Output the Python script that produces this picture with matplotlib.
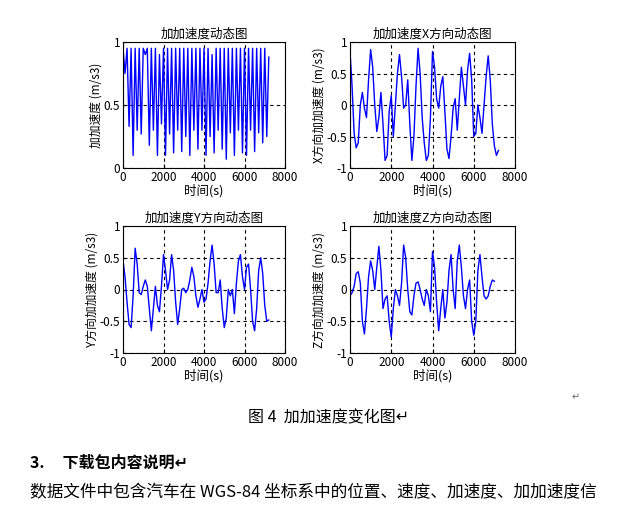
import matplotlib
matplotlib.use("Agg")
import matplotlib.pyplot as plt
import numpy as np

plt.rcParams['font.family'] = ['Noto Sans CJK SC', 'DejaVu Sans']

t = list(range(0, 7300, 100))
jerk = [0.95,0.75,0.95,0.33,0.95,0.1,0.95,0.3,0.95,0.27,0.95,0.9,0.95,0.18,0.95,0.3,0.95,0.1,0.9,0.35,0.95,0.1,0.95,0.27,0.95,0.12,0.95,0.3,0.95,0.13,0.95,0.25,0.95,0.1,0.95,0.3,0.95,0.15,0.95,0.3,0.95,0.1,0.95,0.25,0.9,0.12,0.95,0.3,0.95,0.15,0.95,0.07,0.95,0.28,0.95,0.1,0.95,0.3,0.95,0.12,0.95,0.1,0.95,0.3,0.95,0.13,0.95,0.28,0.95,0.2,0.95,0.25,0.88]
jx = [0.85,0.3,-0.45,-0.68,-0.6,0.0,0.2,-0.05,-0.2,0.4,0.88,0.6,0.0,-0.42,-0.2,0.2,-0.3,-0.88,-0.8,-0.1,0.15,-0.5,0.0,0.5,0.8,0.45,-0.05,0.0,0.4,-0.3,-0.88,-0.5,0.3,0.9,0.5,-0.2,-0.6,-0.88,-0.8,-0.2,0.85,0.6,0.1,-0.05,0.3,0.45,-0.1,-0.7,-0.85,-0.5,-0.05,0.1,-0.4,0.1,0.6,0.3,0.0,0.55,0.82,0.4,-0.5,-0.45,0.0,-0.2,-0.45,0.0,0.45,0.78,0.4,-0.3,-0.65,-0.8,-0.72]
jy = [0.45,0.2,-0.2,-0.55,-0.6,-0.1,0.65,0.4,-0.05,-0.08,0.05,0.15,0.05,-0.3,-0.65,-0.3,0.05,-0.25,-0.35,0.05,0.55,0.3,0.0,0.15,0.55,0.3,-0.2,-0.55,-0.3,0.0,0.02,-0.05,0.0,0.15,0.35,0.2,-0.1,-0.28,-0.15,0.0,-0.2,-0.15,0.1,0.45,0.7,0.4,-0.05,-0.05,0.15,-0.3,-0.6,-0.45,0.0,-0.1,0.0,-0.38,0.1,0.45,0.55,0.2,0.0,0.35,0.4,0.0,-0.5,-0.65,-0.3,0.3,0.5,0.25,-0.25,-0.5,-0.48]
tz = list(range(0, 7100, 100))
jz = [-0.1,-0.05,0.05,0.25,0.28,0.1,-0.5,-0.7,-0.3,0.2,0.45,0.3,0.0,0.35,0.68,0.3,-0.3,-0.15,-0.1,-0.5,-0.75,-0.3,0.0,-0.1,-0.25,0.1,0.7,0.5,0.0,-0.35,-0.4,-0.1,0.1,0.12,0.0,-0.15,-0.25,0.0,-0.1,-0.35,0.6,0.35,-0.2,-0.65,-0.3,0.0,-0.45,-0.2,0.3,0.55,0.0,-0.3,0.45,0.7,0.35,-0.1,-0.3,0.0,0.15,-0.5,-0.72,-0.5,0.3,0.55,0.2,-0.1,-0.15,-0.1,0.05,0.15,0.13]

W, H = 642, 527
fig = plt.figure(figsize=(W/100, H/100), dpi=100)

def ax_at(x0, y0, x1, y1):
    return fig.add_axes([x0/W, 1-y1/H, (x1-x0)/W, (y1-y0)/H])

panels = [
    ((123, 42, 285, 168), t, jerk, '加加速度动态图', '加加速度 (m/s3)', (0, 1), [0, 0.5, 1], ['0', '0.5', '1']),
    ((350, 42, 515, 168), t, jx, '加加速度X方向动态图', 'X方向加加速度 (m/s3)', (-1, 1), [-1, -0.5, 0, 0.5, 1], ['-1', '-0.5', '0', '0.5', '1']),
    ((123, 226, 285, 353), t, jy, '加加速度Y方向动态图', 'Y方向加加速度 (m/s3)', (-1, 1), [-1, -0.5, 0, 0.5, 1], ['-1', '-0.5', '0', '0.5', '1']),
    ((350, 226, 515, 353), tz, jz, '加加速度Z方向动态图', 'Z方向加加速度 (m/s3)', (-1, 1), [-1, -0.5, 0, 0.5, 1], ['-1', '-0.5', '0', '0.5', '1']),
]
for box, xs, ys, title, ylabel, ylim, yt, ytl in panels:
    ax = ax_at(*box)
    ax.plot(xs, ys, color='#0000ff', lw=1)
    ax.set_xlim(0, 8000)
    ax.set_ylim(*ylim)
    ax.set_xticks([0, 2000, 4000, 6000, 8000])
    ax.set_yticks(yt)
    ax.set_yticklabels(ytl)
    ax.grid(True, color='black', linestyle=(0, (3, 3)), lw=0.8)
    ax.tick_params(labelsize=8.5, direction='in', length=3, pad=2)
    ax.set_title(title, fontsize=9, pad=3)
    ax.set_xlabel('时间(s)', fontsize=9, labelpad=0)
    ax.set_ylabel(ylabel, fontsize=8.5, labelpad=1)
    for s in ax.spines.values():
        s.set_linewidth(0.8)

fig.text(572/W, 1-397/H, '↵', fontsize=7, color='#666666', va='center')
fig.text(248/W, 1-418/H, '图 4  加加速度变化图↵', fontsize=11.5, va='center', ha='left')
fig.text(30/W, 1-463/H, '3.     下载包内容说明↵', fontsize=11.5, fontweight='bold', va='center', ha='left')
fig.text(30/W, 1-493/H, '数据文件中包含汽车在 WGS-84 坐标系中的位置、速度、加速度、加加速度信', fontsize=12, va='center', ha='left')

fig.savefig('out.png', dpi=100)
